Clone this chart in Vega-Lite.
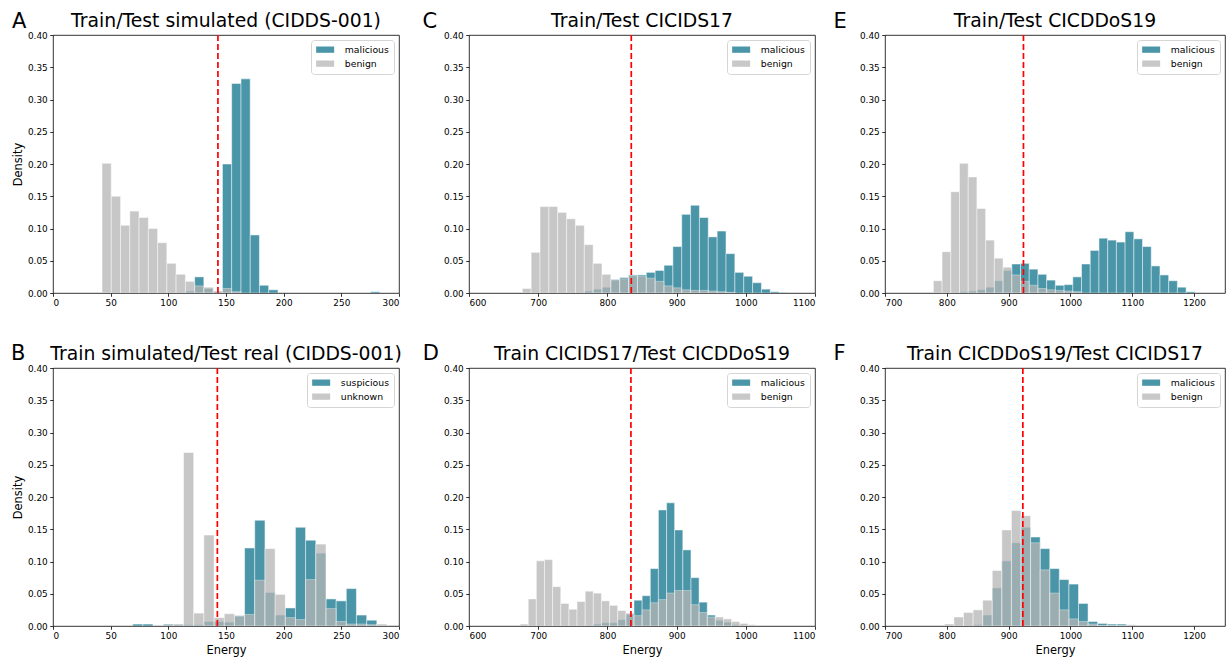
{
"$schema": "https://vega.github.io/schema/vega-lite/v6.json",
"padding": {"left": 10, "top": 9, "right": 0, "bottom": 0},
"autosize": {"type": "pad"},
"background": "white",
"datasets": {
"A": [
{"group":"malicious","start":114.8,"end":122.8,"density":0.003},
{"group":"malicious","start":122.8,"end":130.8,"density":0.025},
{"group":"malicious","start":130.8,"end":138.9,"density":0.007},
{"group":"malicious","start":138.9,"end":146.9,"density":0.002},
{"group":"malicious","start":146.9,"end":154.9,"density":0.200},
{"group":"malicious","start":154.9,"end":163.0,"density":0.325},
{"group":"malicious","start":163.0,"end":171.0,"density":0.332},
{"group":"malicious","start":171.0,"end":179.0,"density":0.090},
{"group":"malicious","start":179.0,"end":187.0,"density":0.012},
{"group":"malicious","start":187.0,"end":195.1,"density":0.005},
{"group":"malicious","start":275.4,"end":283.4,"density":0.002},
{"group":"benign","start":42.5,"end":50.5,"density":0.201},
{"group":"benign","start":50.5,"end":58.6,"density":0.150},
{"group":"benign","start":58.6,"end":66.6,"density":0.105},
{"group":"benign","start":66.6,"end":74.6,"density":0.127},
{"group":"benign","start":74.6,"end":82.7,"density":0.117},
{"group":"benign","start":82.7,"end":90.7,"density":0.100},
{"group":"benign","start":90.7,"end":98.7,"density":0.078},
{"group":"benign","start":98.7,"end":106.7,"density":0.046},
{"group":"benign","start":106.7,"end":114.8,"density":0.029},
{"group":"benign","start":114.8,"end":122.8,"density":0.018},
{"group":"benign","start":122.8,"end":130.8,"density":0.011},
{"group":"benign","start":130.8,"end":138.9,"density":0.009},
{"group":"benign","start":138.9,"end":146.9,"density":0.003},
{"group":"benign","start":146.9,"end":154.9,"density":0.007},
{"group":"benign","start":154.9,"end":163.0,"density":0.002}
],
"B": [
{"group":"suspicious","start":69.1,"end":77.9,"density":0.003},
{"group":"suspicious","start":77.9,"end":86.7,"density":0.003},
{"group":"suspicious","start":95.6,"end":104.4,"density":0.003},
{"group":"suspicious","start":104.4,"end":113.2,"density":0.002},
{"group":"suspicious","start":113.2,"end":122.0,"density":0.002},
{"group":"suspicious","start":122.0,"end":130.8,"density":0.002},
{"group":"suspicious","start":130.8,"end":139.7,"density":0.007},
{"group":"suspicious","start":139.7,"end":148.5,"density":0.007},
{"group":"suspicious","start":148.5,"end":157.3,"density":0.006},
{"group":"suspicious","start":157.3,"end":166.1,"density":0.016},
{"group":"suspicious","start":166.1,"end":174.9,"density":0.121},
{"group":"suspicious","start":174.9,"end":183.8,"density":0.164},
{"group":"suspicious","start":183.8,"end":192.6,"density":0.052},
{"group":"suspicious","start":192.6,"end":201.4,"density":0.017},
{"group":"suspicious","start":201.4,"end":210.2,"density":0.028},
{"group":"suspicious","start":210.2,"end":219.0,"density":0.153},
{"group":"suspicious","start":219.0,"end":227.9,"density":0.133},
{"group":"suspicious","start":227.9,"end":236.7,"density":0.113},
{"group":"suspicious","start":236.7,"end":245.5,"density":0.042},
{"group":"suspicious","start":245.5,"end":254.3,"density":0.039},
{"group":"suspicious","start":254.3,"end":263.1,"density":0.058},
{"group":"suspicious","start":263.1,"end":272.0,"density":0.017},
{"group":"suspicious","start":272.0,"end":280.8,"density":0.009},
{"group":"unknown","start":95.6,"end":104.4,"density":0.002},
{"group":"unknown","start":104.4,"end":113.2,"density":0.003},
{"group":"unknown","start":113.2,"end":122.0,"density":0.269},
{"group":"unknown","start":122.0,"end":130.8,"density":0.020},
{"group":"unknown","start":130.8,"end":139.7,"density":0.141},
{"group":"unknown","start":139.7,"end":148.5,"density":0.013},
{"group":"unknown","start":148.5,"end":157.3,"density":0.019},
{"group":"unknown","start":157.3,"end":166.1,"density":0.015},
{"group":"unknown","start":166.1,"end":174.9,"density":0.018},
{"group":"unknown","start":174.9,"end":183.8,"density":0.071},
{"group":"unknown","start":183.8,"end":192.6,"density":0.120},
{"group":"unknown","start":192.6,"end":201.4,"density":0.049},
{"group":"unknown","start":201.4,"end":210.2,"density":0.013},
{"group":"unknown","start":210.2,"end":219.0,"density":0.010},
{"group":"unknown","start":219.0,"end":227.9,"density":0.072},
{"group":"unknown","start":227.9,"end":236.7,"density":0.127},
{"group":"unknown","start":236.7,"end":245.5,"density":0.027},
{"group":"unknown","start":245.5,"end":254.3,"density":0.007},
{"group":"unknown","start":254.3,"end":263.1,"density":0.003},
{"group":"unknown","start":263.1,"end":272.0,"density":0.003},
{"group":"unknown","start":272.0,"end":280.8,"density":0.002},
{"group":"unknown","start":280.8,"end":289.6,"density":0.003}
],
"C": [
{"group":"malicious","start":766.6,"end":779.4,"density":0.003},
{"group":"malicious","start":779.4,"end":792.2,"density":0.006},
{"group":"malicious","start":792.2,"end":805.0,"density":0.009},
{"group":"malicious","start":805.0,"end":817.8,"density":0.021},
{"group":"malicious","start":817.8,"end":830.6,"density":0.024},
{"group":"malicious","start":830.6,"end":843.4,"density":0.028},
{"group":"malicious","start":843.4,"end":856.2,"density":0.028},
{"group":"malicious","start":856.2,"end":869.0,"density":0.032},
{"group":"malicious","start":869.0,"end":881.8,"density":0.035},
{"group":"malicious","start":881.8,"end":894.6,"density":0.043},
{"group":"malicious","start":894.6,"end":907.4,"density":0.072},
{"group":"malicious","start":907.4,"end":920.2,"density":0.122},
{"group":"malicious","start":920.2,"end":933.0,"density":0.136},
{"group":"malicious","start":933.0,"end":945.8,"density":0.117},
{"group":"malicious","start":945.8,"end":958.6,"density":0.087},
{"group":"malicious","start":958.6,"end":971.4,"density":0.096},
{"group":"malicious","start":971.4,"end":984.2,"density":0.061},
{"group":"malicious","start":984.2,"end":997.0,"density":0.032},
{"group":"malicious","start":997.0,"end":1009.8,"density":0.026},
{"group":"malicious","start":1009.8,"end":1022.6,"density":0.016},
{"group":"malicious","start":1022.6,"end":1035.4,"density":0.006},
{"group":"malicious","start":1035.4,"end":1048.2,"density":0.002},
{"group":"malicious","start":1048.2,"end":1061.0,"density":0.001},
{"group":"benign","start":677.0,"end":689.8,"density":0.007},
{"group":"benign","start":689.8,"end":702.6,"density":0.063},
{"group":"benign","start":702.6,"end":715.4,"density":0.134},
{"group":"benign","start":715.4,"end":728.2,"density":0.134},
{"group":"benign","start":728.2,"end":741.0,"density":0.125},
{"group":"benign","start":741.0,"end":753.8,"density":0.115},
{"group":"benign","start":753.8,"end":766.6,"density":0.105},
{"group":"benign","start":766.6,"end":779.4,"density":0.075},
{"group":"benign","start":779.4,"end":792.2,"density":0.046},
{"group":"benign","start":792.2,"end":805.0,"density":0.029},
{"group":"benign","start":805.0,"end":817.8,"density":0.020},
{"group":"benign","start":817.8,"end":830.6,"density":0.022},
{"group":"benign","start":830.6,"end":843.4,"density":0.027},
{"group":"benign","start":843.4,"end":856.2,"density":0.026},
{"group":"benign","start":856.2,"end":869.0,"density":0.023},
{"group":"benign","start":869.0,"end":881.8,"density":0.018},
{"group":"benign","start":881.8,"end":894.6,"density":0.011},
{"group":"benign","start":894.6,"end":907.4,"density":0.008},
{"group":"benign","start":907.4,"end":920.2,"density":0.005},
{"group":"benign","start":920.2,"end":933.0,"density":0.004},
{"group":"benign","start":933.0,"end":945.8,"density":0.004},
{"group":"benign","start":945.8,"end":958.6,"density":0.003},
{"group":"benign","start":958.6,"end":971.4,"density":0.002},
{"group":"benign","start":971.4,"end":984.2,"density":0.001}
],
"D": [
{"group":"malicious","start":779.6,"end":791.4,"density":0.003},
{"group":"malicious","start":791.4,"end":803.2,"density":0.005},
{"group":"malicious","start":803.2,"end":814.9,"density":0.005},
{"group":"malicious","start":814.9,"end":826.7,"density":0.010},
{"group":"malicious","start":826.7,"end":838.4,"density":0.018},
{"group":"malicious","start":838.4,"end":850.2,"density":0.040},
{"group":"malicious","start":850.2,"end":862.0,"density":0.047},
{"group":"malicious","start":862.0,"end":873.7,"density":0.089},
{"group":"malicious","start":873.7,"end":885.5,"density":0.180},
{"group":"malicious","start":885.5,"end":897.2,"density":0.191},
{"group":"malicious","start":897.2,"end":909.0,"density":0.149},
{"group":"malicious","start":909.0,"end":920.8,"density":0.118},
{"group":"malicious","start":920.8,"end":932.5,"density":0.075},
{"group":"malicious","start":932.5,"end":944.3,"density":0.037},
{"group":"malicious","start":944.3,"end":956.0,"density":0.017},
{"group":"malicious","start":956.0,"end":967.8,"density":0.009},
{"group":"malicious","start":967.8,"end":979.6,"density":0.006},
{"group":"malicious","start":979.6,"end":991.3,"density":0.002},
{"group":"benign","start":673.8,"end":685.6,"density":0.003},
{"group":"benign","start":685.6,"end":697.3,"density":0.042},
{"group":"benign","start":697.3,"end":709.1,"density":0.101},
{"group":"benign","start":709.1,"end":720.8,"density":0.103},
{"group":"benign","start":720.8,"end":732.6,"density":0.061},
{"group":"benign","start":732.6,"end":744.4,"density":0.035},
{"group":"benign","start":744.4,"end":756.1,"density":0.026},
{"group":"benign","start":756.1,"end":767.9,"density":0.038},
{"group":"benign","start":767.9,"end":779.6,"density":0.054},
{"group":"benign","start":779.6,"end":791.4,"density":0.051},
{"group":"benign","start":791.4,"end":803.2,"density":0.039},
{"group":"benign","start":803.2,"end":814.9,"density":0.032},
{"group":"benign","start":814.9,"end":826.7,"density":0.024},
{"group":"benign","start":826.7,"end":838.4,"density":0.020},
{"group":"benign","start":838.4,"end":850.2,"density":0.016},
{"group":"benign","start":850.2,"end":862.0,"density":0.025},
{"group":"benign","start":862.0,"end":873.7,"density":0.036},
{"group":"benign","start":873.7,"end":885.5,"density":0.041},
{"group":"benign","start":885.5,"end":897.2,"density":0.051},
{"group":"benign","start":897.2,"end":909.0,"density":0.055},
{"group":"benign","start":909.0,"end":920.8,"density":0.055},
{"group":"benign","start":920.8,"end":932.5,"density":0.033},
{"group":"benign","start":932.5,"end":944.3,"density":0.021},
{"group":"benign","start":944.3,"end":956.0,"density":0.014},
{"group":"benign","start":956.0,"end":967.8,"density":0.014},
{"group":"benign","start":967.8,"end":979.6,"density":0.011},
{"group":"benign","start":979.6,"end":991.3,"density":0.007},
{"group":"benign","start":991.3,"end":1003.1,"density":0.004},
{"group":"benign","start":1003.1,"end":1014.8,"density":0.002}
],
"E": [
{"group":"malicious","start":820.5,"end":834.6,"density":0.002},
{"group":"malicious","start":834.6,"end":848.7,"density":0.003},
{"group":"malicious","start":848.7,"end":862.8,"density":0.005},
{"group":"malicious","start":862.8,"end":876.9,"density":0.009},
{"group":"malicious","start":876.9,"end":891.0,"density":0.019},
{"group":"malicious","start":891.0,"end":905.1,"density":0.035},
{"group":"malicious","start":905.1,"end":919.2,"density":0.045},
{"group":"malicious","start":919.2,"end":933.3,"density":0.046},
{"group":"malicious","start":933.3,"end":947.4,"density":0.037},
{"group":"malicious","start":947.4,"end":961.5,"density":0.029},
{"group":"malicious","start":961.5,"end":975.6,"density":0.020},
{"group":"malicious","start":975.6,"end":989.7,"density":0.012},
{"group":"malicious","start":989.7,"end":1003.8,"density":0.013},
{"group":"malicious","start":1003.8,"end":1017.9,"density":0.025},
{"group":"malicious","start":1017.9,"end":1032.0,"density":0.045},
{"group":"malicious","start":1032.0,"end":1046.1,"density":0.066},
{"group":"malicious","start":1046.1,"end":1060.2,"density":0.085},
{"group":"malicious","start":1060.2,"end":1074.3,"density":0.082},
{"group":"malicious","start":1074.3,"end":1088.4,"density":0.079},
{"group":"malicious","start":1088.4,"end":1102.5,"density":0.095},
{"group":"malicious","start":1102.5,"end":1116.6,"density":0.084},
{"group":"malicious","start":1116.6,"end":1130.7,"density":0.072},
{"group":"malicious","start":1130.7,"end":1144.8,"density":0.042},
{"group":"malicious","start":1144.8,"end":1158.9,"density":0.028},
{"group":"malicious","start":1158.9,"end":1173.0,"density":0.019},
{"group":"malicious","start":1173.0,"end":1187.1,"density":0.009},
{"group":"malicious","start":1187.1,"end":1201.2,"density":0.002},
{"group":"benign","start":778.2,"end":792.3,"density":0.019},
{"group":"benign","start":792.3,"end":806.4,"density":0.064},
{"group":"benign","start":806.4,"end":820.5,"density":0.157},
{"group":"benign","start":820.5,"end":834.6,"density":0.201},
{"group":"benign","start":834.6,"end":848.7,"density":0.180},
{"group":"benign","start":848.7,"end":862.8,"density":0.131},
{"group":"benign","start":862.8,"end":876.9,"density":0.082},
{"group":"benign","start":876.9,"end":891.0,"density":0.054},
{"group":"benign","start":891.0,"end":905.1,"density":0.040},
{"group":"benign","start":905.1,"end":919.2,"density":0.028},
{"group":"benign","start":919.2,"end":933.3,"density":0.018},
{"group":"benign","start":933.3,"end":947.4,"density":0.012},
{"group":"benign","start":947.4,"end":961.5,"density":0.007},
{"group":"benign","start":961.5,"end":975.6,"density":0.005},
{"group":"benign","start":975.6,"end":989.7,"density":0.004},
{"group":"benign","start":989.7,"end":1003.8,"density":0.003},
{"group":"benign","start":1003.8,"end":1017.9,"density":0.002}
],
"F": [
{"group":"malicious","start":842.5,"end":858.0,"density":0.002},
{"group":"malicious","start":858.0,"end":873.5,"density":0.017},
{"group":"malicious","start":873.5,"end":889.0,"density":0.059},
{"group":"malicious","start":889.0,"end":904.5,"density":0.101},
{"group":"malicious","start":904.5,"end":920.0,"density":0.129},
{"group":"malicious","start":920.0,"end":935.5,"density":0.153},
{"group":"malicious","start":935.5,"end":951.0,"density":0.138},
{"group":"malicious","start":951.0,"end":966.5,"density":0.120},
{"group":"malicious","start":966.5,"end":982.0,"density":0.089},
{"group":"malicious","start":982.0,"end":997.5,"density":0.072},
{"group":"malicious","start":997.5,"end":1013.0,"density":0.065},
{"group":"malicious","start":1013.0,"end":1028.5,"density":0.035},
{"group":"malicious","start":1028.5,"end":1044.0,"density":0.007},
{"group":"malicious","start":1044.0,"end":1059.5,"density":0.004},
{"group":"malicious","start":1059.5,"end":1075.0,"density":0.003},
{"group":"malicious","start":1075.0,"end":1090.5,"density":0.003},
{"group":"benign","start":796.0,"end":811.5,"density":0.003},
{"group":"benign","start":811.5,"end":827.0,"density":0.014},
{"group":"benign","start":827.0,"end":842.5,"density":0.021},
{"group":"benign","start":842.5,"end":858.0,"density":0.025},
{"group":"benign","start":858.0,"end":873.5,"density":0.040},
{"group":"benign","start":873.5,"end":889.0,"density":0.086},
{"group":"benign","start":889.0,"end":904.5,"density":0.149},
{"group":"benign","start":904.5,"end":920.0,"density":0.179},
{"group":"benign","start":920.0,"end":935.5,"density":0.171},
{"group":"benign","start":935.5,"end":951.0,"density":0.129},
{"group":"benign","start":951.0,"end":966.5,"density":0.087},
{"group":"benign","start":966.5,"end":982.0,"density":0.051},
{"group":"benign","start":982.0,"end":997.5,"density":0.025},
{"group":"benign","start":997.5,"end":1013.0,"density":0.011},
{"group":"benign","start":1013.0,"end":1028.5,"density":0.007},
{"group":"benign","start":1028.5,"end":1044.0,"density":0.003},
{"group":"benign","start":1044.0,"end":1059.5,"density":0.001},
{"group":"benign","start":1059.5,"end":1075.0,"density":0.001},
{"group":"benign","start":1075.0,"end":1090.5,"density":0.001},
{"group":"benign","start":1090.5,"end":1106.0,"density":0.002}
]
},
"columns": 3,
"spacing": {"column": 70, "row": 75},
"bounds": "flush",
"concat": [
{
"width": 346, "height": 258,
"title": {"text": "Train/Test simulated (CIDDS-001)"},
"layer": [
{"data": {"name": "A"},
 "mark": {"type": "bar", "opacity": 0.75, "stroke": "white", "strokeWidth": 0.5, "clip": true},
 "encoding": {
  "x": {"field": "start", "type": "quantitative", "scale": {"domain": [0, 300], "nice": false, "zero": false}, "axis": {"values": [0,50,100,150,200,250,300], "format": "d", "title": null}},
  "x2": {"field": "end"},
  "y": {"field": "density", "type": "quantitative", "stack": null, "scale": {"domain": [0, 0.4], "nice": false}, "axis": {"values": [0,0.05,0.1,0.15,0.2,0.25,0.3,0.35,0.4], "format": ".2f", "title": "Density"}},
  "y2": {"datum": 0},
  "color": {"field": "group", "type": "nominal", "scale": {"domain": ["malicious","benign"], "range": ["#0e738b","#b5b5b5"]}, "legend": {"title": null}}
 }},
{"data": {"values": [{"threshold": 143}]},
 "mark": {"type": "rule", "color": "#ff0000", "strokeDash": [6, 3], "strokeWidth": 1.7},
 "encoding": {"x": {"field": "threshold", "type": "quantitative", "scale": {"domain": [0, 300], "nice": false, "zero": false}, "axis": {"orient": "top", "title": "A", "labels": false, "ticks": false, "domain": false, "titleX": -41.6, "titleY": -8, "titleAngle": 0, "titleAlign": "left", "titleBaseline": "alphabetic", "titleFontSize": 21}}}}
],
"resolve": {"axis": {"x": "independent"}}
},
{
"width": 346, "height": 258,
"title": {"text": "Train/Test CICIDS17"},
"layer": [
{"data": {"name": "C"},
 "mark": {"type": "bar", "opacity": 0.75, "stroke": "white", "strokeWidth": 0.5, "clip": true},
 "encoding": {
  "x": {"field": "start", "type": "quantitative", "scale": {"domain": [600, 1100], "nice": false, "zero": false}, "axis": {"values": [600,700,800,900,1000,1100], "format": "d", "title": null}},
  "x2": {"field": "end"},
  "y": {"field": "density", "type": "quantitative", "stack": null, "scale": {"domain": [0, 0.4], "nice": false}, "axis": {"values": [0,0.05,0.1,0.15,0.2,0.25,0.3,0.35,0.4], "format": ".2f", "title": null}},
  "y2": {"datum": 0},
  "color": {"field": "group", "type": "nominal", "scale": {"domain": ["malicious","benign"], "range": ["#0e738b","#b5b5b5"]}, "legend": {"title": null}}
 }},
{"data": {"values": [{"threshold": 834.5}]},
 "mark": {"type": "rule", "color": "#ff0000", "strokeDash": [6, 3], "strokeWidth": 1.7},
 "encoding": {"x": {"field": "threshold", "type": "quantitative", "scale": {"domain": [600, 1100], "nice": false, "zero": false}, "axis": {"orient": "top", "title": "C", "labels": false, "ticks": false, "domain": false, "titleX": -47, "titleY": -8, "titleAngle": 0, "titleAlign": "left", "titleBaseline": "alphabetic", "titleFontSize": 21}}}}
],
"resolve": {"axis": {"x": "independent"}}
},
{
"width": 340, "height": 258,
"title": {"text": "Train/Test CICDDoS19"},
"layer": [
{"data": {"name": "E"},
 "mark": {"type": "bar", "opacity": 0.75, "stroke": "white", "strokeWidth": 0.5, "clip": true},
 "encoding": {
  "x": {"field": "start", "type": "quantitative", "scale": {"domain": [700, 1250], "nice": false, "zero": false}, "axis": {"values": [700,800,900,1000,1100,1200], "format": "d", "title": null}},
  "x2": {"field": "end"},
  "y": {"field": "density", "type": "quantitative", "stack": null, "scale": {"domain": [0, 0.4], "nice": false}, "axis": {"values": [0,0.05,0.1,0.15,0.2,0.25,0.3,0.35,0.4], "format": ".2f", "title": null}},
  "y2": {"datum": 0},
  "color": {"field": "group", "type": "nominal", "scale": {"domain": ["malicious","benign"], "range": ["#0e738b","#b5b5b5"]}, "legend": {"title": null}}
 }},
{"data": {"values": [{"threshold": 924}]},
 "mark": {"type": "rule", "color": "#ff0000", "strokeDash": [6, 3], "strokeWidth": 1.7},
 "encoding": {"x": {"field": "threshold", "type": "quantitative", "scale": {"domain": [700, 1250], "nice": false, "zero": false}, "axis": {"orient": "top", "title": "E", "labels": false, "ticks": false, "domain": false, "titleX": -52, "titleY": -8, "titleAngle": 0, "titleAlign": "left", "titleBaseline": "alphabetic", "titleFontSize": 21}}}}
],
"resolve": {"axis": {"x": "independent"}}
},
{
"width": 346, "height": 258,
"title": {"text": "Train simulated/Test real (CIDDS-001)"},
"layer": [
{"data": {"name": "B"},
 "mark": {"type": "bar", "opacity": 0.75, "stroke": "white", "strokeWidth": 0.5, "clip": true},
 "encoding": {
  "x": {"field": "start", "type": "quantitative", "scale": {"domain": [0, 300], "nice": false, "zero": false}, "axis": {"values": [0,50,100,150,200,250,300], "format": "d", "title": "Energy"}},
  "x2": {"field": "end"},
  "y": {"field": "density", "type": "quantitative", "stack": null, "scale": {"domain": [0, 0.4], "nice": false}, "axis": {"values": [0,0.05,0.1,0.15,0.2,0.25,0.3,0.35,0.4], "format": ".2f", "title": "Density"}},
  "y2": {"datum": 0},
  "color": {"field": "group", "type": "nominal", "scale": {"domain": ["suspicious","unknown"], "range": ["#0e738b","#b5b5b5"]}, "legend": {"title": null}}
 }},
{"data": {"values": [{"threshold": 142.5}]},
 "mark": {"type": "rule", "color": "#ff0000", "strokeDash": [6, 3], "strokeWidth": 1.7},
 "encoding": {"x": {"field": "threshold", "type": "quantitative", "scale": {"domain": [0, 300], "nice": false, "zero": false}, "axis": {"orient": "top", "title": "B", "labels": false, "ticks": false, "domain": false, "titleX": -42.6, "titleY": -8.5, "titleAngle": 0, "titleAlign": "left", "titleBaseline": "alphabetic", "titleFontSize": 21}}}}
],
"resolve": {"axis": {"x": "independent"}}
},
{
"width": 346, "height": 258,
"title": {"text": "Train CICIDS17/Test CICDDoS19"},
"layer": [
{"data": {"name": "D"},
 "mark": {"type": "bar", "opacity": 0.75, "stroke": "white", "strokeWidth": 0.5, "clip": true},
 "encoding": {
  "x": {"field": "start", "type": "quantitative", "scale": {"domain": [600, 1100], "nice": false, "zero": false}, "axis": {"values": [600,700,800,900,1000,1100], "format": "d", "title": "Energy"}},
  "x2": {"field": "end"},
  "y": {"field": "density", "type": "quantitative", "stack": null, "scale": {"domain": [0, 0.4], "nice": false}, "axis": {"values": [0,0.05,0.1,0.15,0.2,0.25,0.3,0.35,0.4], "format": ".2f", "title": null}},
  "y2": {"datum": 0},
  "color": {"field": "group", "type": "nominal", "scale": {"domain": ["malicious","benign"], "range": ["#0e738b","#b5b5b5"]}, "legend": {"title": null}}
 }},
{"data": {"values": [{"threshold": 834}]},
 "mark": {"type": "rule", "color": "#ff0000", "strokeDash": [6, 3], "strokeWidth": 1.7},
 "encoding": {"x": {"field": "threshold", "type": "quantitative", "scale": {"domain": [600, 1100], "nice": false, "zero": false}, "axis": {"orient": "top", "title": "D", "labels": false, "ticks": false, "domain": false, "titleX": -46.7, "titleY": -8.5, "titleAngle": 0, "titleAlign": "left", "titleBaseline": "alphabetic", "titleFontSize": 21}}}}
],
"resolve": {"axis": {"x": "independent"}}
},
{
"width": 340, "height": 258,
"title": {"text": "Train CICDDoS19/Test CICIDS17"},
"layer": [
{"data": {"name": "F"},
 "mark": {"type": "bar", "opacity": 0.75, "stroke": "white", "strokeWidth": 0.5, "clip": true},
 "encoding": {
  "x": {"field": "start", "type": "quantitative", "scale": {"domain": [700, 1250], "nice": false, "zero": false}, "axis": {"values": [700,800,900,1000,1100,1200], "format": "d", "title": "Energy"}},
  "x2": {"field": "end"},
  "y": {"field": "density", "type": "quantitative", "stack": null, "scale": {"domain": [0, 0.4], "nice": false}, "axis": {"values": [0,0.05,0.1,0.15,0.2,0.25,0.3,0.35,0.4], "format": ".2f", "title": null}},
  "y2": {"datum": 0},
  "color": {"field": "group", "type": "nominal", "scale": {"domain": ["malicious","benign"], "range": ["#0e738b","#b5b5b5"]}, "legend": {"title": null}}
 }},
{"data": {"values": [{"threshold": 923}]},
 "mark": {"type": "rule", "color": "#ff0000", "strokeDash": [6, 3], "strokeWidth": 1.7},
 "encoding": {"x": {"field": "threshold", "type": "quantitative", "scale": {"domain": [700, 1250], "nice": false, "zero": false}, "axis": {"orient": "top", "title": "F", "labels": false, "ticks": false, "domain": false, "titleX": -52, "titleY": -8.5, "titleAngle": 0, "titleAlign": "left", "titleBaseline": "alphabetic", "titleFontSize": 21}}}}
],
"resolve": {"axis": {"x": "independent"}}
}
],
"resolve": {"scale": {"color": "independent"}, "legend": {"color": "independent"}},
"config": {
 "font": "DejaVu Sans",
 "view": {"stroke": "black", "strokeWidth": 0.8},
 "axis": {"grid": false, "domain": false, "tickColor": "black", "tickWidth": 0.8, "tickSize": 3.3, "labelFontSize": 8.9, "labelColor": "black", "labelPadding": 2.5, "titleFontSize": 11.4, "titleFontWeight": "normal", "titleColor": "black", "titlePadding": 4},
 "title": {"fontSize": 18.8, "fontWeight": "normal", "color": "black", "anchor": "middle", "frame": "group", "baseline": "alphabetic", "offset": -21},
 "legend": {"orient": "top-right", "offset": 5, "labelFontSize": 9.3, "labelColor": "black", "fillColor": "white", "strokeColor": "#d5d5d5", "cornerRadius": 3, "padding": 5, "rowPadding": 4, "symbolType": "M-2,-0.7L2,-0.7L2,0.7L-2,0.7Z", "symbolSize": 81, "symbolOffset": 4.5, "symbolStrokeWidth": 0, "symbolOpacity": 0.75, "labelOffset": 15}
}
}
